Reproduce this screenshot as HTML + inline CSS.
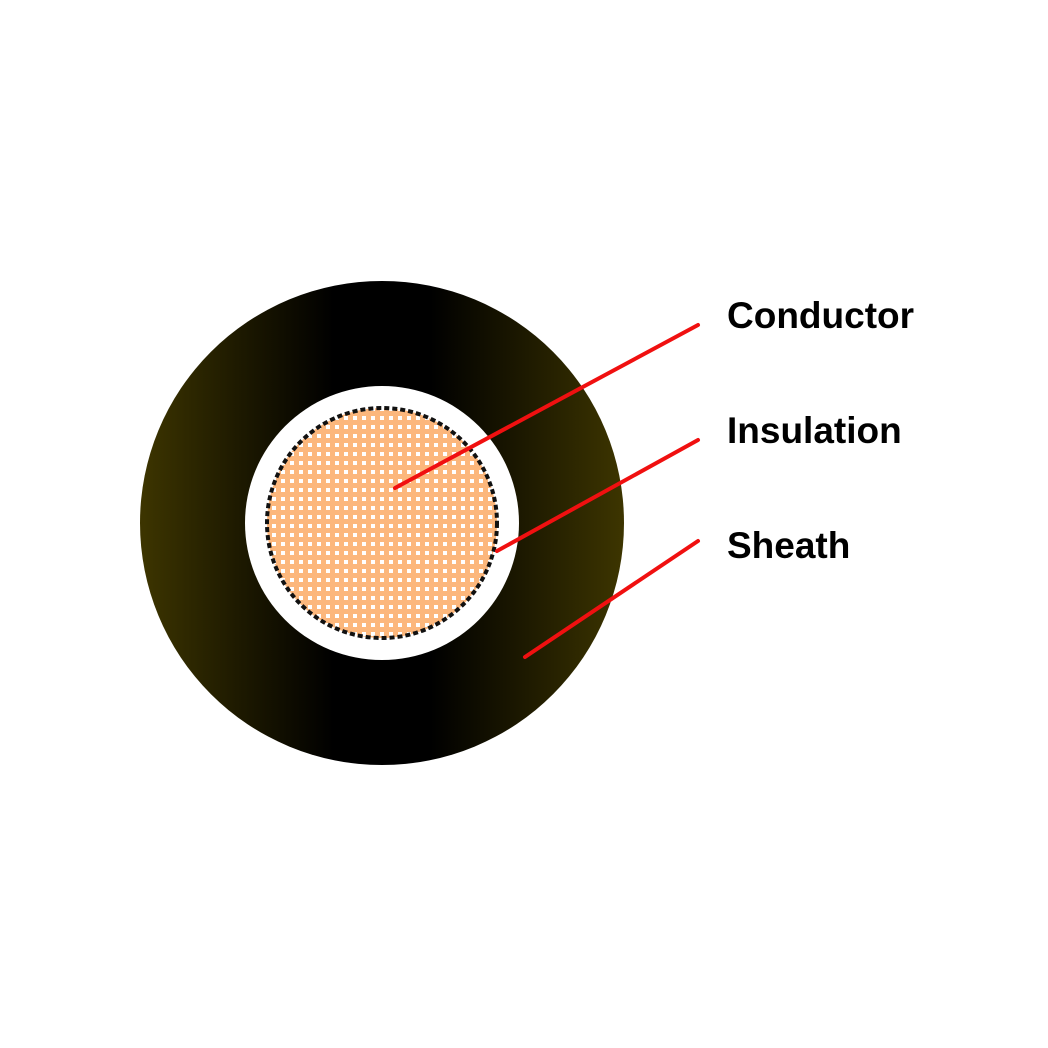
<!DOCTYPE html>
<html><head><style>html,body{margin:0;padding:0;background:#fff;width:1048px;height:1048px;overflow:hidden}</style></head>
<body>
<svg width="1048" height="1048" viewBox="0 0 1048 1048" xmlns="http://www.w3.org/2000/svg">
<defs>
<linearGradient id="g" x1="0" x2="1" y1="0" y2="0">
<stop offset="0" stop-color="#3d3500"/>
<stop offset="0.2" stop-color="#1e1a00"/>
<stop offset="0.4" stop-color="#000"/>
<stop offset="0.6" stop-color="#000"/>
<stop offset="0.8" stop-color="#1e1a00"/>
<stop offset="1" stop-color="#3d3500"/>
</linearGradient>
<pattern id="p" width="9" height="9" patternUnits="userSpaceOnUse">
<rect width="9" height="9" fill="#fcb77c"/>
<rect x="2" y="2" width="4" height="4" fill="#fff"/>
</pattern>
</defs>
<circle cx="382" cy="523" r="242" fill="url(#g)"/>
<circle cx="382" cy="523" r="137" fill="#fff"/>
<circle cx="382" cy="523" r="115" fill="url(#p)" stroke="#111" stroke-width="4" stroke-dasharray="5 3"/>
<g stroke="#f01010" stroke-width="4" stroke-linecap="round">
<line x1="395" y1="488" x2="698" y2="325"/>
<line x1="497" y1="551" x2="698" y2="440"/>
<line x1="525" y1="657" x2="698" y2="541"/>
</g>
<g font-family="Liberation Sans, sans-serif" font-weight="bold" font-size="37" fill="#000">
<text x="727" y="328">Conductor</text>
<text x="727" y="443">Insulation</text>
<text x="727" y="558">Sheath</text>
</g>
</svg>
</body></html>
